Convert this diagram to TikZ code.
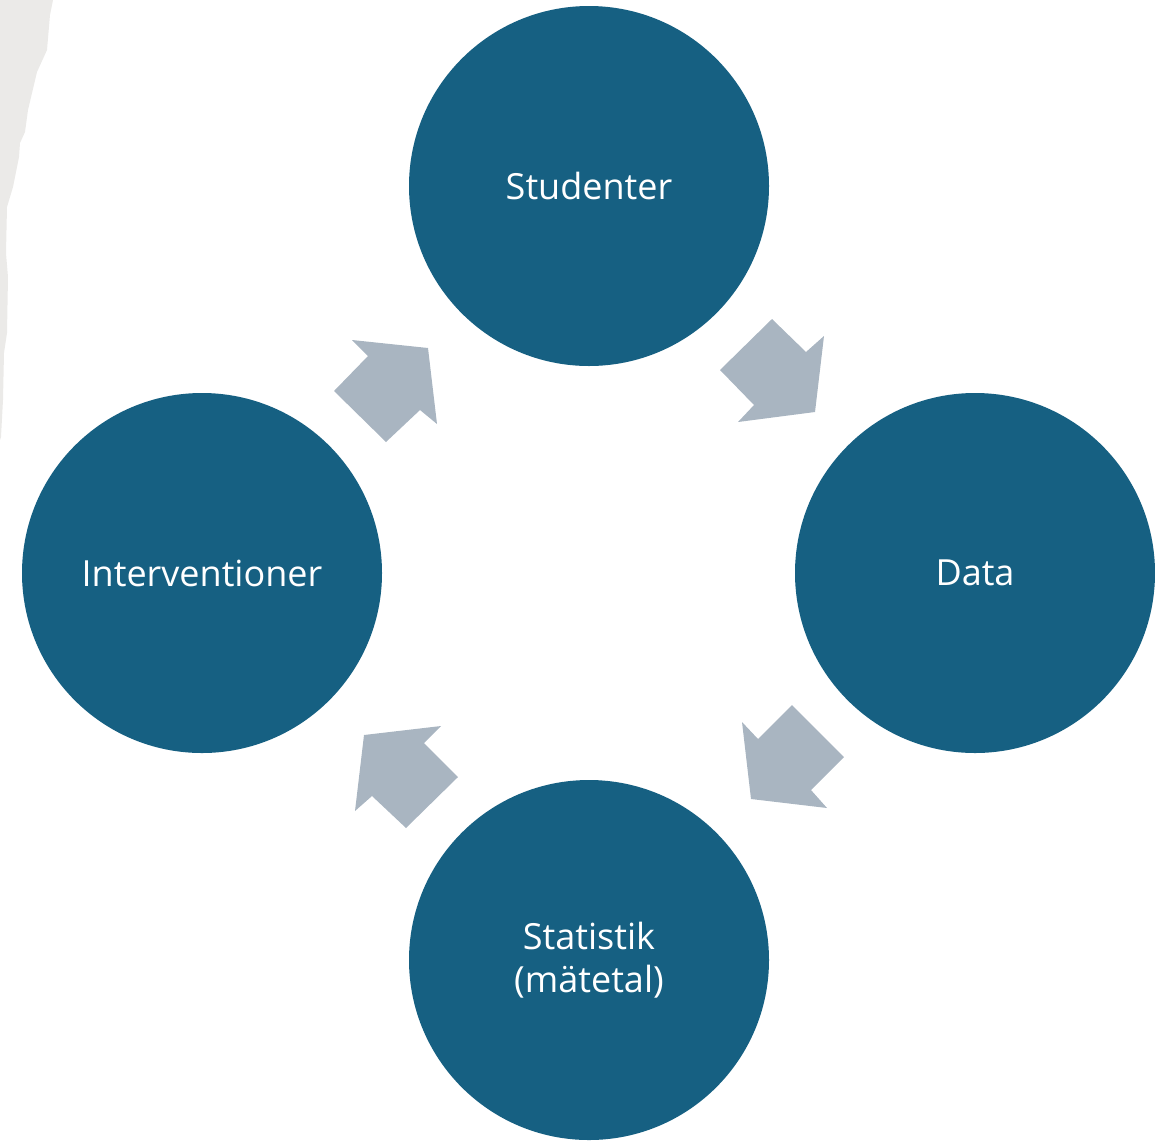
\documentclass[tikz,border=0pt]{standalone}
\usepackage{fontspec}
\setmainfont{Open Sans}
\definecolor{circ}{HTML}{166082}
\definecolor{arr}{HTML}{A9B5C1}
\definecolor{paper}{HTML}{EBEAE8}
\begin{document}
\begin{tikzpicture}[x=1pt,y=-1pt,
  stage/.style={circle,fill=circ,minimum size=360pt,inner sep=0pt,text=white,font=\fontsize{36}{43}\selectfont,align=center},
  blockarrow/.style={fill=arr,draw=none}]
\useasboundingbox (0,0) rectangle (1155,1141);
\fill[paper] (0,0) -- (53,0) -- (50,15) -- (47,50) -- (37,72) -- (28,110) -- (25,132) -- (20,143) -- (19,157) -- (13,187) -- (7,207) -- (6,253) -- (8,277) -- (7,333) -- (4,353) -- (3,400) -- (1,437) -- (0,440) -- cycle;
\node[stage] (stud) at (589,186) {Studenter};
\node[stage] (data) at (975,573) {Data};
\node[stage] (stat) at (589,960) {Statistik\\(mätetal)};
\node[stage] (int) at (202,573) {Interventioner};
\fill[blockarrow] (772,319) -- (806,352) -- (824,336) -- (815,412) -- (738,422) -- (754,405) -- (720,370) -- cycle;
\fill[blockarrow] (742,722) -- (758,739) -- (792,705) -- (844,757) -- (811,790) -- (827,808) -- (751,799) -- cycle;
\fill[blockarrow] (364,735) -- (441,726) -- (424,743) -- (458,777) -- (406,828) -- (372,796) -- (355,811) -- cycle;
\fill[blockarrow] (352,340) -- (428,348) -- (437,424) -- (420,410) -- (386,442) -- (334,391) -- (368,356) -- cycle;
\end{tikzpicture}
\end{document}
